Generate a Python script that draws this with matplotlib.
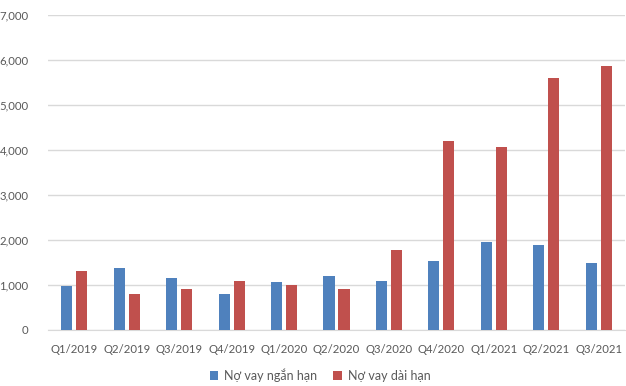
import matplotlib
matplotlib.use("Agg")
import matplotlib.pyplot as plt
import numpy as np
from matplotlib.ticker import FuncFormatter

categories = ["Q1/2019", "Q2/2019", "Q3/2019", "Q4/2019", "Q1/2020", "Q2/2020",
              "Q3/2020", "Q4/2020", "Q1/2021", "Q2/2021", "Q3/2021"]
short_term = [985, 1387, 1163, 805, 1074, 1208, 1096, 1544, 1946, 1879, 1499]
long_term = [1320, 805, 917, 1096, 1007, 917, 1767, 4207, 4073, 5607, 5873]
series_names = ["Nợ vay ngắn hạn", "Nợ vay dài hạn"]
yticks = [0, 1000, 2000, 3000, 4000, 5000, 6000, 7000]

plt.rcParams['font.family'] = ['Lato', 'DejaVu Sans']
text_color = "#595959"

fig = plt.figure(figsize=(6.26, 3.86), dpi=100)
ax = fig.add_axes([48/626, 56/386, 577/626, 315/386])

x = np.arange(len(categories))
w = 0.21
off = 0.143
ax.bar(x - off, short_term, width=w, color="#4F81BD", label=series_names[0], zorder=3)
ax.bar(x + off, long_term, width=w, color="#C0504D", label=series_names[1], zorder=3)

ax.set_xlim(-0.5, len(categories) - 0.5)
ax.set_ylim(0, 7000)
ax.set_yticks(yticks)
ax.yaxis.set_major_formatter(FuncFormatter(lambda v, p: f"{int(v):,}"))
ax.set_xticks(x)
ax.set_xticklabels(categories)
ax.grid(axis="y", color="#D9D9D9", linewidth=1, zorder=0)
for s in ["top", "right", "left"]:
    ax.spines[s].set_visible(False)
ax.spines["bottom"].set_color("#D9D9D9")
ax.tick_params(axis="both", length=0, labelsize=8.2, colors=text_color)
ax.tick_params(axis="x", pad=10)
ax.tick_params(axis="y", pad=14)

leg = fig.legend(loc="center", bbox_to_anchor=(320/626, 11/386), ncol=2, frameon=False,
                 fontsize=9, handlelength=0.7, handleheight=0.7, columnspacing=1.3,
                 handletextpad=0.45)
for t in leg.get_texts():
    t.set_color(text_color)

fig.savefig("out.png", dpi=100)
